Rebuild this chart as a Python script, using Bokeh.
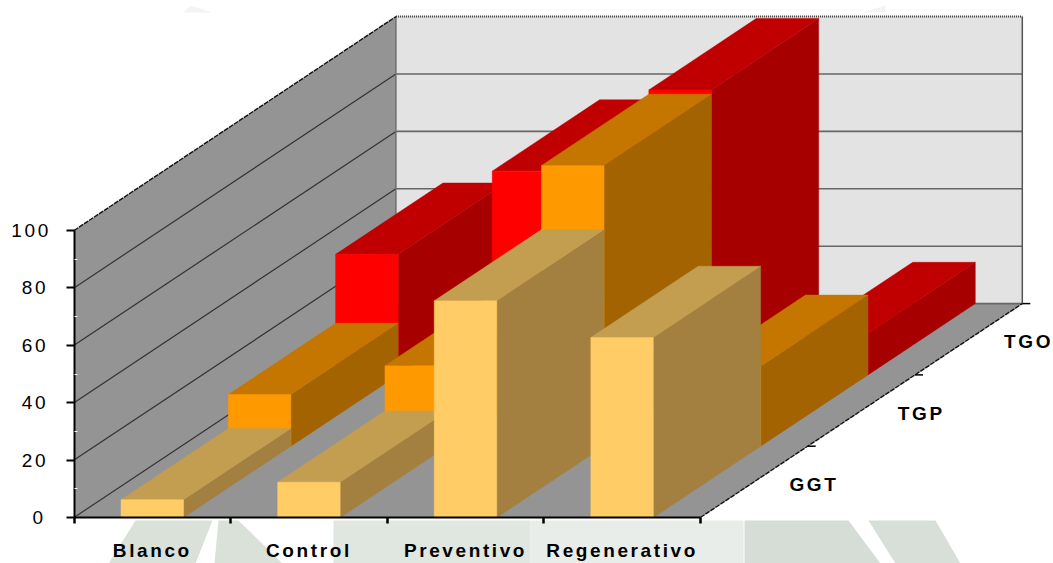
from bokeh.embed import file_html
from bokeh.resources import INLINE
from bokeh.plotting import figure
from bokeh.models import FixedTicker
from bokeh.core.properties import value

# Enzyme readings per treatment group
categories = ["Blanco", "Control", "Preventivo", "Regenerativo"]
series_names = ["GGT", "TGP", "TGO"]
ggt = [6.2, 12.3, 75.5, 62.7]
tgp = [18.0, 28.0, 97.8, 27.8]
tgo = [42.0, 71.0, 99.3, 14.4]
y_ticks = [0, 20, 40, 60, 80, 100]

# Oblique projection, per depth slot, in category and value units
W, H = 1053, 563
LEFT_PX = 73.5
BOTTOM_PX = 517
CAT_PX = 156.6
VAL_PX = 2.87
DX = 107.3 / CAT_PX
DY = 71.3 / VAL_PX
BAR_W = 62.5 / CAT_PX
N_D = len(series_names)
N_C = len(categories)

FONT = "Liberation Sans"
TRACKING_PX = 2.6
palette = {
    "GGT": ("#FFCC66", "#C49E50", "#A38040"),
    "TGP": ("#FF9900", "#C47600", "#A36300"),
    "TGO": ("#FF0000", "#C00000", "#A60000"),
}


def pt(x, v, d):
    return x + d * DX, v + d * DY


def face(*corners):
    xs, ys = zip(*(pt(*c) for c in corners))
    return list(xs), list(ys)


def page_x(px):
    return [(q - LEFT_PX) / CAT_PX for q in px]


def page_y(py):
    return [(BOTTOM_PX - q) / VAL_PX for q in py]


p = figure(width=W, height=H, output_backend="svg", toolbar_location=None,
           x_range=(page_x([0])[0], page_x([W])[0]), y_range=(page_y([H])[0], page_y([0])[0]),
           min_border=0, background_fill_color="white", border_fill_color="white", outline_line_color=None)
p.xgrid.visible = False
p.ygrid.visible = False

# Faint letterhead showing around the chart area
for poly, col in [
    ([333, 530, 530, 333], "#E0E6E0"),
    ([530, 743, 743, 530], "#E9EDE9"),
    ([135, 212, 195, 108], "#D9E1D9"),
    ([218, 238, 282, 214], "#D9E1D9"),
    ([744, 848, 880, 744], "#D6DDD6"),
    ([868, 935, 960, 895], "#D8DFD8"),
]:
    p.patch(page_x(poly), page_y([520, 520, 563, 563]), fill_color=col, line_color=None)
for xs, ys in [([183, 190, 212], [12, 5, 12]), ([862, 885, 885], [12, 5, 12])]:
    p.patch(page_x(xs), page_y(ys), fill_color="#F3F4F3", line_color=None)

# Walls and floor
wx, wy = face((0, 0, 0), (0, 0, N_D), (0, 100, N_D), (0, 100, 0))
p.patch(wx, wy, fill_color="#949494", line_color=None)
wx, wy = face((0, 0, N_D), (N_C, 0, N_D), (N_C, 100, N_D), (0, 100, N_D))
p.patch(wx, wy, fill_color="#E3E3E3", line_color=None)
wx, wy = face((0, 0, 0), (N_C, 0, 0), (N_C, 0, N_D), (0, 0, N_D))
p.patch(wx, wy, fill_color="#949494", line_color=None)

# Gridlines across both walls
for v in y_ticks[:-1]:
    lx, ly = face((0, v, 0), (0, v, N_D))
    p.line(lx, ly, line_color="#333333", line_width=1.2)
    lx, ly = face((0, v, N_D), (N_C, v, N_D))
    p.line(lx, ly, line_color="#666666", line_width=1.6)

lx, ly = face((0, 0, N_D), (0, 100, N_D))
p.line(lx, ly, line_color="#6E6E6E", line_width=1.5)
lx, ly = face((N_C, 0, N_D), (N_C, 100, N_D))
p.line(lx, ly, line_color="#555555", line_width=1.5)
lx, ly = face((0, 100, 0), (0, 100, N_D))
p.line(lx, ly, line_color="#111111", line_width=1.4, line_dash="5 1")
lx, ly = face((0, 100, N_D), (N_C, 100, N_D))
p.line(lx, ly, line_color="#333333", line_width=2, line_dash="1 1")
lx, ly = face((N_C, 0, 0), (N_C, 0, N_D))
p.line(lx, ly, line_color="#111111", line_width=1.4, line_dash="5 1")

# Bars, painted from the back row to the front row
rows = {"GGT": ggt, "TGP": tgp, "TGO": tgo}
for d in reversed(range(N_D)):
    name = series_names[d]
    front_c, top_c, side_c = palette[name]
    fronts, tops, sides = ([], []), ([], []), ([], [])
    for i, val in enumerate(rows[name]):
        x0 = i + (1 - BAR_W) / 2
        x1 = x0 + BAR_W
        for store, corners in (
            (fronts, [(x0, 0, d), (x1, 0, d), (x1, val, d), (x0, val, d)]),
            (tops, [(x0, val, d), (x1, val, d), (x1, val, d + 1), (x0, val, d + 1)]),
            (sides, [(x1, 0, d), (x1, 0, d + 1), (x1, val, d + 1), (x1, val, d)]),
        ):
            fx, fy = face(*corners)
            store[0].append(fx)
            store[1].append(fy)
    p.patches(sides[0], sides[1], fill_color=side_c, line_color=side_c, line_width=0.5)
    p.patches(tops[0], tops[1], fill_color=top_c, line_color=top_c, line_width=0.5)
    p.patches(fronts[0], fronts[1], fill_color=front_c, line_color=front_c, line_width=0.5)

# Depth axis: ticks and series names beside the floor edge
for d in range(1, N_D + 1):
    tx, ty = pt(N_C, 0, d)
    p.line([tx, tx + 8 / CAT_PX], [ty, ty], line_color="black", line_width=1.5)
for d, name in enumerate(series_names):
    tx, ty = pt(N_C, 0, d + 0.5)
    p.text([tx + 56 / CAT_PX], [ty - 2.5 / VAL_PX], text=[name], text_font=value(FONT),
           text_font_style="bold", text_font_size="19px", text_color="black",
           text_align="center", text_baseline="middle")

# Treatment axis: ticks at the group edges, names between them.
# Label anchors move left by half the tracked width so the names stay centred.
xa = p.xaxis[0]
xa.fixed_location = 0
mids = [i + 0.5 - len(c) * TRACKING_PX / 2 / CAT_PX for i, c in enumerate(categories)]
xa.ticker = FixedTicker(ticks=mids, minor_ticks=list(range(N_C + 1)))
xa.major_label_overrides = {m: c for m, c in zip(mids, categories)}
xa.bounds = (0, N_C)
xa.axis_line_color = "black"
xa.axis_line_width = 2
xa.major_tick_line_color = None
xa.major_tick_in = 0
xa.major_tick_out = 0
xa.minor_tick_line_color = "black"
xa.minor_tick_line_width = 2.5
xa.minor_tick_in = 0
xa.minor_tick_out = 6
xa.major_label_standoff = 16
xa.major_label_text_font = FONT
xa.major_label_text_font_style = "bold"
xa.major_label_text_font_size = "19px"
xa.major_label_text_color = "black"

# Value axis
ya = p.yaxis[0]
ya.fixed_location = 0
ya.ticker = FixedTicker(ticks=y_ticks, minor_ticks=[10, 30, 50, 70, 90])
ya.bounds = (0, 100)
ya.axis_line_color = "black"
ya.axis_line_width = 2
ya.major_tick_line_color = "black"
ya.major_tick_line_width = 2
ya.major_tick_in = 0
ya.major_tick_out = 8
ya.minor_tick_line_color = "white"
ya.minor_tick_line_width = 1
ya.minor_tick_in = 3
ya.minor_tick_out = 0
ya.major_label_standoff = 23
ya.major_label_text_font = FONT
ya.major_label_text_font_size = "19px"
ya.major_label_text_color = "black"

html = file_html(p, INLINE)
# Wide tracking on all chart text
html = html.replace("</head>", "<style>html,body{margin:0;letter-spacing:%spx}</style></head>" % TRACKING_PX, 1)
open("out.html", "w").write(html)
